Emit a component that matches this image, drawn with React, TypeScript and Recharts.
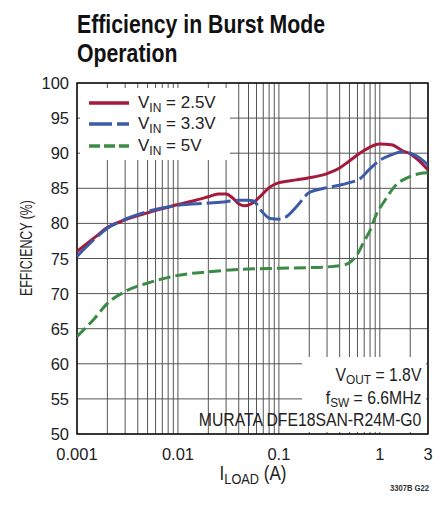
import React from "react";
import { CartesianGrid, Legend, Line, LineChart, ReferenceArea, XAxis, YAxis } from "recharts";

const SANS = '"Liberation Sans", Arial, sans-serif';

const RED = "#a31a3c";
const BLUE = "#3d5aa8";
const GREEN = "#3b8b47";
const GRID = "#555";

// grid lines on every minor decade step, labels only on a few
const gridTicks = [
  0.001, 0.002, 0.003, 0.004, 0.005, 0.006, 0.007, 0.008, 0.009,
  0.01, 0.02, 0.03, 0.04, 0.05, 0.06, 0.07, 0.08, 0.09,
  0.1, 0.2, 0.3, 0.4, 0.5, 0.6, 0.7, 0.8, 0.9,
  1, 2, 3,
];
const labelTicks = [0.001, 0.01, 0.1, 1, 3];
const yTicks = [50, 55, 60, 65, 70, 75, 80, 85, 90, 95, 100];

// VIN = 2.5V
const load25 = [0.001, 0.0015, 0.002, 0.003, 0.005, 0.007, 0.01, 0.015, 0.02, 0.025, 0.03, 0.035, 0.04, 0.046, 0.055, 0.065, 0.08, 0.1, 0.15, 0.2, 0.3, 0.4, 0.5, 0.7, 1, 1.3, 1.7, 2, 2.5, 3];
const eff25 = [76.0, 78.0, 79.4, 80.5, 81.5, 82.1, 82.7, 83.3, 83.8, 84.2, 84.2, 83.6, 82.8, 82.5, 82.9, 83.8, 85.1, 85.8, 86.2, 86.5, 87.1, 87.9, 88.9, 90.4, 91.3, 91.2, 90.3, 89.9, 88.8, 87.6];

// VIN = 3.3V
const load33 = [0.001, 0.0015, 0.002, 0.003, 0.005, 0.007, 0.01, 0.02, 0.03, 0.04, 0.05, 0.056, 0.066, 0.082, 0.1, 0.12, 0.15, 0.2, 0.28, 0.47, 0.64, 0.8, 1, 1.26, 1.7, 2, 2.5, 3];
const eff33 = [75.3, 77.8, 79.3, 80.6, 81.7, 82.2, 82.6, 82.9, 83.1, 83.3, 83.3, 83.2, 81.9, 80.7, 80.6, 81.0, 82.4, 84.4, 85.0, 85.7, 86.4, 87.8, 89.0, 89.7, 90.2, 90.0, 89.3, 88.3];

// VIN = 5V
const load5 = [0.001, 0.0015, 0.002, 0.003, 0.005, 0.007, 0.01, 0.02, 0.05, 0.1, 0.3, 0.45, 0.52, 0.6, 0.69, 0.8, 0.93, 1.08, 1.5, 1.7, 2.5, 3];
const eff5 = [63.9, 66.5, 68.6, 70.3, 71.5, 72.1, 72.6, 73.1, 73.5, 73.6, 73.8, 74.1, 74.6, 75.6, 77.3, 79.0, 81.4, 82.9, 85.7, 86.2, 87.1, 87.2];

const toPoints = (xs: number[], ys: number[]) => xs.map((x, i) => ({ x, y: ys[i] }));

const series = [
  { label: "2.5V", color: RED, dash: undefined as string | undefined, legendDash: undefined as string | undefined, data: toPoints(load25, eff25) },
  { label: "3.3V", color: BLUE, dash: "24 5", legendDash: "23 5", data: toPoints(load33, eff33) },
  { label: "5V", color: GREEN, dash: "12 5", legendDash: "11 4", data: toPoints(load5, eff5) },
];

function XTick(props: any) {
  const { x, y, payload } = props;
  if (!labelTicks.includes(payload.value)) return null;
  return (
    <text x={x} y={y} dy={18} textAnchor="middle" fontFamily={SANS} fontSize={16.5} fill="#222">
      {String(payload.value)}
    </text>
  );
}

function YTick(props: any) {
  const { x, y, payload } = props;
  return (
    <text x={x} y={y} dy={6} textAnchor="end" fontFamily={SANS} fontSize={16.5} fill="#222">
      {payload.value}
    </text>
  );
}

function YTitle() {
  return (
    <text
      x={26}
      y={248}
      transform="rotate(-90 26 248)"
      textAnchor="middle"
      dy={6}
      fontFamily={SANS}
      fontSize={16.5}
      textLength={96}
      lengthAdjust="spacingAndGlyphs"
      fill="#222"
    >
      EFFICIENCY (%)
    </text>
  );
}

function XTitle() {
  return (
    <g transform="translate(253 480) scale(0.85 1)">
      <text x={0} y={0} textAnchor="middle" fontFamily={SANS} fontSize={20} fill="#222">
        I<tspan fontSize={15} dy={4}>LOAD</tspan>
        <tspan dy={-4}> (A)</tspan>
      </text>
    </g>
  );
}

function LegendBox() {
  return (
    <div
      style={{
        background: "#fff",
        width: 150,
        height: 72,
        boxSizing: "border-box",
        padding: "4px 0 0 9px",
        fontFamily: SANS,
        fontSize: 17,
        color: "#222",
      }}
    >
      {series.map((s) => (
        <div key={s.label} style={{ display: "flex", alignItems: "center", height: 21.5 }}>
          <svg width={40} height={6} style={{ marginRight: 9, flex: "none" }}>
            <line x1={0} y1={3} x2={40} y2={3} stroke={s.color} strokeWidth={3.5} strokeDasharray={s.legendDash} />
          </svg>
          <span style={{ whiteSpace: "nowrap" }}>
            V<span style={{ fontSize: 12, position: "relative", top: 4 }}>IN</span> = {s.label}
          </span>
        </div>
      ))}
    </div>
  );
}

const sub = { fontSize: 13.5, position: "relative" as const, top: 3 };

export default function App() {
  return (
    <div style={{ position: "absolute", left: 0, top: 0, width: 433, height: 506, background: "#fff" }}>
      <div
        style={{
          position: "absolute",
          left: 77,
          top: 10,
          fontFamily: SANS,
          fontWeight: 700,
          fontSize: 25,
          lineHeight: "29px",
          color: "#111",
          whiteSpace: "nowrap",
          transform: "scaleX(0.85)",
          transformOrigin: "left top",
        }}
      >
        Efficiency in Burst Mode
        <br />
        Operation
      </div>

      <LineChart width={433} height={506} margin={{ top: 83, right: 5, bottom: 0, left: 0 }}>
        <CartesianGrid stroke={GRID} strokeWidth={1} />
        <XAxis
          dataKey="x"
          type="number"
          scale="log"
          domain={[0.001, 3]}
          allowDataOverflow
          ticks={gridTicks}
          interval={0}
          tick={<XTick />}
          tickLine={false}
          axisLine={false}
          height={72}
          label={<XTitle />}
        />
        <YAxis
          type="number"
          domain={[50, 100]}
          ticks={yTicks}
          interval={0}
          tick={<YTick />}
          tickLine={false}
          axisLine={false}
          width={77}
          label={<YTitle />}
        />
        <ReferenceArea x1={0.001} x2={3} y1={50} y2={100} fill="none" stroke="#111" strokeWidth={1.5} ifOverflow="visible" />
        {series.map((s) => (
          <Line
            key={s.label}
            data={s.data}
            dataKey="y"
            type="monotone"
            stroke={s.color}
            strokeWidth={3}
            strokeDasharray={s.dash}
            dot={false}
            activeDot={false}
            isAnimationActive={false}
          />
        ))}
        <Legend
          layout="vertical"
          align="center"
          verticalAlign="middle"
          content={<LegendBox />}
          wrapperStyle={{ left: 80, top: 88, width: 150, height: 72 }}
        />
      </LineChart>

      {/* conditions box, lower right of the plot */}
      <div
        style={{
          position: "absolute",
          left: 302,
          top: 357,
          width: 124,
          height: 75,
          background: "#fff",
        }}
      >
        <div
          style={{
            position: "absolute",
            right: 5,
            top: 8,
            textAlign: "right",
            fontFamily: SANS,
            fontSize: 18,
            lineHeight: "21.5px",
            color: "#222",
            whiteSpace: "nowrap",
            transform: "scaleX(0.875)",
            transformOrigin: "right top",
          }}
        >
          <div>
            V<span style={sub}>OUT</span> = 1.8V
          </div>
          <div>
            f<span style={sub}>SW</span> = 6.6MHz
          </div>
          <div>MURATA DFE18SAN-R24M-G0</div>
        </div>
      </div>

      <div
        style={{
          position: "absolute",
          right: 4,
          top: 483,
          fontFamily: SANS,
          fontSize: 9,
          lineHeight: "10px",
          fontWeight: 700,
          color: "#333",
          whiteSpace: "nowrap",
          transform: "scaleX(0.85)",
          transformOrigin: "right top",
        }}
      >
        3307B G22
      </div>
    </div>
  );
}
